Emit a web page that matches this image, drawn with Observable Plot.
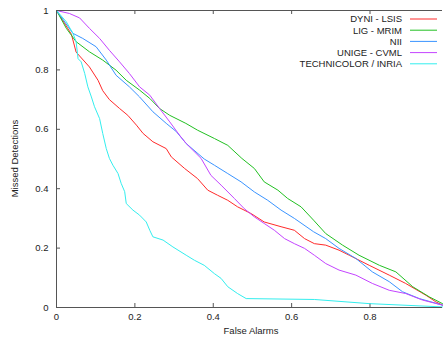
<!DOCTYPE html>
<html>
<head>
<meta charset="utf-8">
<script src="https://cdn.jsdelivr.net/npm/d3@7"></script>
<script src="https://cdn.jsdelivr.net/npm/@observablehq/plot@0.6"></script>
<style>
  html, body { margin: 0; padding: 0; background: #fff; }
  #chart { width: 443px; height: 343px; overflow: hidden; }
  svg { font-family: "Liberation Sans", Arial, sans-serif; }
</style>
</head>
<body>
<div id="chart"></div>
<script>
// Series names and colours
const seriesNames = ["DYNI - LSIS", "LIG - MRIM", "NII", "UNIGE - CVML", "TECHNICOLOR / INRIA"];
const seriesColors = ["#ff2a2a", "#22c022", "#3a94ff", "#c444ff", "#33eeee"];

// [false alarm, missed detection] pairs
const dyni = [[0,1],[0.038,0.92],[0.05,0.86],[0.084,0.81],[0.106,0.765],[0.118,0.73],[0.135,0.70],[0.161,0.67],[0.182,0.647],[0.204,0.614],[0.221,0.586],[0.246,0.558],[0.28,0.535],[0.293,0.507],[0.327,0.468],[0.36,0.434],[0.386,0.395],[0.411,0.378],[0.437,0.361],[0.462,0.339],[0.497,0.316],[0.53,0.288],[0.573,0.272],[0.607,0.26],[0.633,0.232],[0.658,0.215],[0.687,0.21],[0.721,0.193],[0.747,0.176],[0.798,0.142],[0.849,0.109],[0.891,0.081],[0.943,0.041],[0.968,0.019],[0.985,0.008]];
const lig = [[0,1],[0.025,0.94],[0.05,0.895],[0.084,0.861],[0.118,0.833],[0.152,0.799],[0.178,0.765],[0.212,0.732],[0.238,0.704],[0.263,0.67],[0.289,0.647],[0.33,0.62],[0.36,0.597],[0.403,0.569],[0.437,0.546],[0.473,0.502],[0.505,0.468],[0.53,0.423],[0.565,0.395],[0.59,0.367],[0.624,0.339],[0.656,0.294],[0.687,0.249],[0.73,0.21],[0.772,0.176],[0.824,0.142],[0.866,0.12],[0.909,0.07],[0.951,0.036],[0.985,0.013]];
const nii = [[0,1],[0.042,0.923],[0.067,0.906],[0.101,0.878],[0.127,0.833],[0.152,0.782],[0.186,0.743],[0.212,0.709],[0.246,0.659],[0.28,0.62],[0.306,0.592],[0.331,0.552],[0.377,0.5],[0.403,0.479],[0.437,0.451],[0.471,0.423],[0.505,0.389],[0.539,0.361],[0.573,0.328],[0.607,0.3],[0.656,0.255],[0.687,0.232],[0.721,0.199],[0.764,0.165],[0.806,0.12],[0.849,0.087],[0.883,0.053],[0.926,0.03],[0.985,0.008]];
const unige = [[0,1],[0.033,0.99],[0.059,0.975],[0.084,0.94],[0.11,0.906],[0.135,0.866],[0.161,0.827],[0.186,0.788],[0.212,0.743],[0.238,0.715],[0.263,0.67],[0.289,0.625],[0.314,0.58],[0.331,0.552],[0.369,0.502],[0.394,0.445],[0.42,0.412],[0.454,0.367],[0.479,0.333],[0.505,0.305],[0.53,0.283],[0.556,0.26],[0.582,0.232],[0.607,0.215],[0.633,0.199],[0.658,0.176],[0.687,0.148],[0.721,0.126],[0.764,0.109],[0.806,0.081],[0.849,0.058],[0.891,0.047],[0.934,0.025],[0.985,0.008]];
const technicolor = [[0,1],[0.025,0.962],[0.042,0.923],[0.05,0.895],[0.055,0.838],[0.063,0.827],[0.072,0.788],[0.08,0.743],[0.089,0.709],[0.097,0.676],[0.11,0.636],[0.118,0.586],[0.127,0.535],[0.135,0.502],[0.144,0.479],[0.157,0.451],[0.165,0.418],[0.174,0.39],[0.178,0.35],[0.195,0.328],[0.212,0.311],[0.229,0.288],[0.238,0.26],[0.246,0.238],[0.272,0.227],[0.297,0.204],[0.331,0.176],[0.352,0.159],[0.377,0.142],[0.403,0.114],[0.42,0.098],[0.437,0.07],[0.462,0.047],[0.484,0.03],[0.658,0.027],[0.798,0.013],[0.985,0.002]];

const xTicks = [0, 0.2, 0.4, 0.6, 0.8];
const yTicks = [0, 0.2, 0.4, 0.6, 0.8, 1];
const xTickLabels = ["0", "0.2", "0.4", "0.6", "0.8"];
const yTickLabels = ["0", "0.2", "0.4", "0.6", "0.8", "1"];
const xLabel = "False Alarms";
const yLabel = "Missed Detections";

const seriesData = [dyni, lig, nii, unige, technicolor];
const rows = seriesData.flatMap((pts, i) => pts.map(([x, y]) => ({series: seriesNames[i], x, y})));

const W = 443, H = 343, mL = 56, mR = 1, mT = 10, mB = 36;
const fw = W - mL - mR, fh = H - mT - mB;
const axisColor = "#555";
const textColor = "#222";

const plot = Plot.plot({
  width: W, height: H,
  marginLeft: mL, marginRight: mR, marginTop: mT, marginBottom: mB,
  style: {fontFamily: "'Liberation Sans', Arial, sans-serif", fontSize: "9.5px", color: textColor, background: "#fff"},
  x: {domain: [0, 0.985]},
  y: {domain: [0, 1]},
  color: {domain: seriesNames, range: seriesColors},
  marks: [
    Plot.axisX(xTicks, {tickSize: 0, tickPadding: 6, tickFormat: (d, i) => xTickLabels[xTicks.indexOf(d)], label: null, fill: textColor}),
    Plot.axisY(yTicks, {tickSize: 0, tickPadding: 8, tickFormat: d => yTickLabels[yTicks.indexOf(d)], label: null, fill: textColor}),
    // inward tick marks
    Plot.ruleX(xTicks.slice(1), {x: d => d, insetTop: fh - 4, stroke: axisColor}),
    Plot.ruleX(xTicks.slice(1), {x: d => d, insetBottom: fh - 4, stroke: axisColor}),
    Plot.ruleY(yTicks.slice(1, -1), {y: d => d, insetRight: fw - 4, stroke: axisColor}),
    Plot.line(rows, {x: "x", y: "y", z: "series", stroke: "series", strokeWidth: 1}),
    // frame (left, bottom, top)
    Plot.ruleX([0], {stroke: axisColor, strokeWidth: 1}),
    Plot.ruleY([0], {stroke: axisColor, strokeWidth: 1}),
    Plot.ruleY([1], {stroke: axisColor, strokeWidth: 1}),
  ]
});

const svg = d3.select(plot);
// axis titles
svg.append("text")
  .attr("x", mL + fw / 2 + 2).attr("y", H - 9)
  .attr("text-anchor", "middle").attr("fill", textColor)
  .style("font-size", "9.5px")
  .text(xLabel);
svg.append("text")
  .attr("transform", `translate(18,${mT + fh / 2}) rotate(-90)`)
  .attr("text-anchor", "middle").attr("fill", textColor)
  .style("font-size", "9.5px")
  .text(yLabel);

// legend
const leg = svg.append("g");
seriesNames.forEach((name, i) => {
  const y = 19 + i * 11.2;
  leg.append("text").attr("x", 402).attr("y", y).attr("dy", "0.35em")
    .attr("text-anchor", "end").attr("fill", textColor).style("font-size", "9.5px").text(name);
  leg.append("line").attr("x1", 410).attr("x2", 437).attr("y1", y).attr("y2", y)
    .attr("stroke", seriesColors[i]).attr("stroke-width", 1);
});

document.getElementById("chart").appendChild(plot);
</script>
</body>
</html>
